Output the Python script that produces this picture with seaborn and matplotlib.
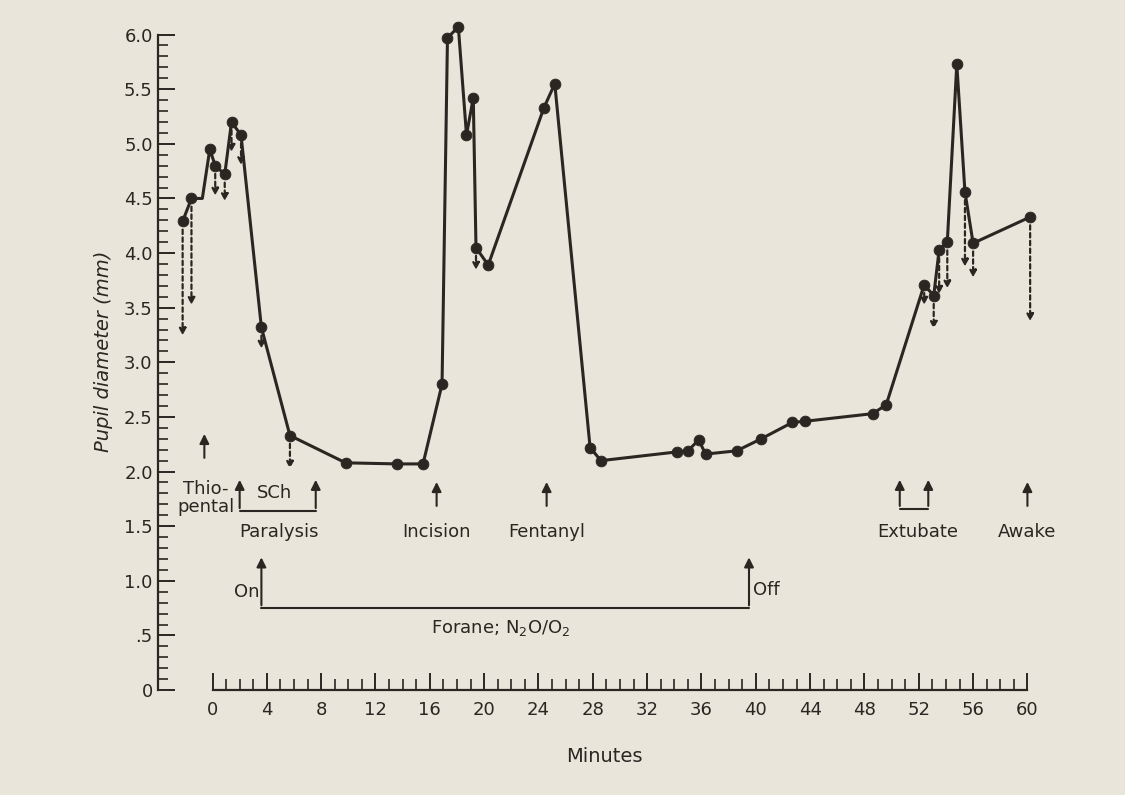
import matplotlib
matplotlib.use("Agg")
import matplotlib.pyplot as plt
import seaborn as sns
import pandas as pd
import numpy as np

minutes = [-2.2,-1.55,-0.75,-0.2,0.2,0.9,1.4,2.1,3.6,5.7,9.8,13.6,15.5,16.9,17.3,18.1,18.7,19.2,19.4,20.3,
           24.4,25.2,27.8,28.6,34.2,35.0,35.8,36.3,38.6,40.4,42.7,43.6,48.6,49.6,52.4,53.1,53.5,54.1,54.8,55.4,56.0,60.2]
diameter = [4.29,4.5,4.5,4.95,4.8,4.72,5.2,5.08,3.32,2.33,2.08,2.07,2.07,2.8,5.97,6.07,5.08,5.42,4.05,3.89,
            5.33,5.55,2.22,2.1,2.18,2.19,2.29,2.16,2.19,2.3,2.45,2.46,2.53,2.61,3.71,3.61,4.03,4.1,5.73,4.56,4.09,4.33]
marker_on = [1,1,0]+[1]*39
arrow_t = [-2.2,-1.55,0.2,0.9,1.4,2.1,3.6,5.7,19.4,52.4,53.1,53.5,54.1,55.4,56.0,60.2]
arrow_from = [4.29,4.5,4.8,4.72,5.2,5.08,3.32,2.33,4.05,3.71,3.61,4.03,4.1,4.56,4.09,4.33]
arrow_to = [3.22,3.5,4.5,4.45,4.9,4.78,3.1,2.0,3.82,3.5,3.28,3.6,3.65,3.85,3.75,3.35]

bg = "#e9e5da"; ink = "#2a2622"
sns.set_theme(style="white")
plt.rcParams['font.family'] = ['DejaVu Sans']
fig = plt.figure(figsize=(11.25, 7.95), dpi=100, facecolor=bg)
ax = fig.add_axes([0.14, 0.132, 0.795, 0.852], facecolor=bg)
df = pd.DataFrame({"t": minutes, "d": diameter, "m": marker_on})
sns.lineplot(data=df, x="t", y="d", ax=ax, color=ink, lw=2.2, sort=False)
dm = df[df.m == 1]
sns.scatterplot(data=dm, x="t", y="d", ax=ax, color=ink, s=60, zorder=5, edgecolor=ink)
for t, a, b in zip(arrow_t, arrow_from, arrow_to):
    ax.annotate("", xy=(t, b), xytext=(t, a - 0.05),
                arrowprops=dict(arrowstyle="-|>", linestyle=(0, (2, 1.5)), color=ink, lw=1.6, mutation_scale=10))

ax.set_xlim(-4.05, 61.8); ax.set_ylim(0, 6.2)
for s in ["top", "right"]:
    ax.spines[s].set_visible(False)
ax.spines["left"].set_bounds(0, 6); ax.spines["bottom"].set_bounds(0, 60)
for s in ["left", "bottom"]:
    ax.spines[s].set_color(ink); ax.spines[s].set_linewidth(1.6)
ax.set_yticks(np.arange(0, 6.01, 0.5))
ax.set_yticklabels(["0", ".5", "1.0", "1.5", "2.0", "2.5", "3.0", "3.5", "4.0", "4.5", "5.0", "5.5", "6.0"])
ax.set_yticks(np.arange(0, 6.01, 0.1), minor=True)
ax.set_xticks(np.arange(0, 61, 4)); ax.set_xticks(np.arange(0, 61, 1), minor=True)
ax.tick_params(axis="y", which="major", direction="in", length=12, width=1.4, color=ink, labelsize=13, labelcolor=ink)
ax.tick_params(axis="y", which="minor", direction="in", length=7, width=1.2, color=ink)
ax.tick_params(axis="x", which="major", direction="in", length=12, width=1.4, color=ink, labelsize=13, labelcolor=ink, pad=8)
ax.tick_params(axis="x", which="minor", direction="in", length=8, width=1.2, color=ink)
ax.tick_params(left=True, bottom=True, which="both")
ax.set_xlabel("Minutes", fontsize=14, color=ink, labelpad=20)
ax.set_ylabel("Pupil diameter (mm)", fontsize=14, color=ink, style="italic", labelpad=8)

ap = dict(arrowstyle="-|>", color=ink, lw=1.5, mutation_scale=14)
def up(t, y0, y1):
    ax.annotate("", xy=(t, y1), xytext=(t, y0), arrowprops=ap)
fs = 13
up(-0.6, 2.1, 2.37)
ax.text(-0.5, 1.76, "Thio-\npental", fontsize=fs, color=ink, ha="center", va="center", linespacing=1.0)
up(2.0, 1.64, 1.95); up(7.6, 1.64, 1.95)
ax.plot([2.0, 7.6], [1.64, 1.64], color=ink, lw=1.5)
ax.text(4.6, 1.8, "SCh", fontsize=fs, color=ink, ha="center", va="center")
ax.text(4.9, 1.45, "Paralysis", fontsize=fs, color=ink, ha="center", va="center")
up(16.5, 1.66, 1.93); ax.text(16.5, 1.45, "Incision", fontsize=fs, color=ink, ha="center", va="center")
up(24.6, 1.66, 1.93); ax.text(24.6, 1.45, "Fentanyl", fontsize=fs, color=ink, ha="center", va="center")
up(50.6, 1.66, 1.95); up(52.7, 1.66, 1.95)
ax.plot([50.6, 52.7], [1.66, 1.66], color=ink, lw=1.5)
ax.text(51.9, 1.45, "Extubate", fontsize=fs, color=ink, ha="center", va="center")
up(60.0, 1.66, 1.93); ax.text(60.0, 1.45, "Awake", fontsize=fs, color=ink, ha="center", va="center")
up(3.6, 0.75, 1.24); up(39.5, 0.75, 1.24)
ax.plot([3.6, 39.5], [0.75, 0.75], color=ink, lw=1.5)
ax.text(2.5, 0.9, "On", fontsize=fs, color=ink, ha="center", va="center")
ax.text(40.8, 0.92, "Off", fontsize=fs, color=ink, ha="center", va="center")
ax.text(21.2, 0.57, "Forane; N$_2$O/O$_2$", fontsize=fs, color=ink, ha="center", va="center")
fig.savefig("out.png", dpi=100, facecolor=bg)
